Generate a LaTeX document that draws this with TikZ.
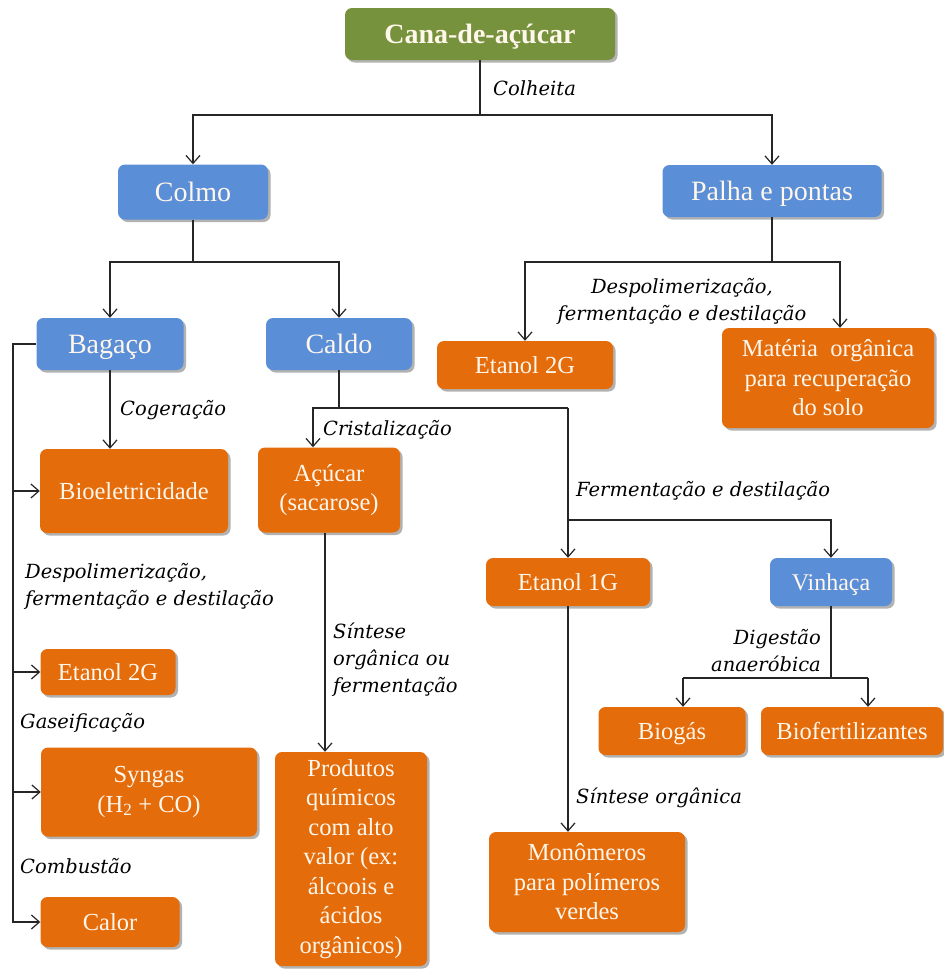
\documentclass[tikz,border=0pt]{standalone}
\usepackage{fontspec}
\setmainfont{Liberation Serif}
\newfontfamily\lblfont{DejaVu Serif}
\usetikzlibrary{arrows.meta,shadows}

\definecolor{canegreen}{HTML}{76923C}
\definecolor{partblue}{HTML}{5A8ED7}
\definecolor{prodorange}{HTML}{E46C0A}
\definecolor{boxtext}{HTML}{FFF6EC}

\tikzset{
  box/.style={rounded corners=7pt, inner sep=0pt, align=center, text=boxtext,
    drop shadow={shadow xshift=2.5pt, shadow yshift=-2.5pt, opacity=0.3, fill=black}},
  stembox/.style={box, fill=canegreen, font=\bfseries\fontsize{28}{32}\selectfont,
    text height=21pt, text depth=2.5pt},
  partbox/.style={box, fill=partblue, font=\fontsize{28}{32}\selectfont,
    text height=21pt, text depth=2.5pt},
  subpart/.style={box, fill=partblue, font=\fontsize{24}{29}\selectfont,
    text height=18pt, text depth=2pt},
  prodbox/.style={box, fill=prodorange, font=\fontsize{24.5}{29.5}\selectfont},
  oneline/.style={text height=18pt, text depth=2pt},
  lbl/.style={inner sep=0pt, font=\lblfont\itshape\fontsize{19.5}{27}\selectfont},
  conn/.style={line width=1.2pt, draw=black!85},
  arr/.style={conn, -{Straight Barb[length=8pt,width=14pt]}}
}

\begin{document}
\begin{tikzpicture}[x=1pt,y=-1pt]
\useasboundingbox (0,0) rectangle (944,969);

% ---- boxes ----
\node[stembox, minimum width=270, minimum height=52] (cana) at (480,34) {Cana-de-açúcar};
\node[partbox, minimum width=150, minimum height=55] (colmo) at (193,192) {Colmo};
\node[partbox, minimum width=219, minimum height=52] (palha) at (772,191) {Palha e pontas};
\node[partbox, minimum width=147, minimum height=52] (bagaco) at (110,344) {Bagaço};
\node[partbox, minimum width=146, minimum height=52] (caldo) at (339,344) {Caldo};
\node[prodbox, oneline, minimum width=176, minimum height=48] (etanolpalha) at (525,365) {Etanol 2G};
\node[prodbox, minimum width=212, minimum height=100] (materia) at (828,378)
  {Matéria\ \ orgânica\\para recuperação\\do solo};
\node[prodbox, oneline, minimum width=188, minimum height=84] (bioel) at (134,491) {Bioeletricidade};
\node[prodbox, minimum width=142, minimum height=85] (acucar) at (329,490) {Açúcar\\(sacarose)};
\node[prodbox, oneline, minimum width=135, minimum height=46] (etanolbag) at (108,672) {Etanol 2G};
\node[prodbox, minimum width=216, minimum height=89] (syngas) at (149,792) {Syngas\\(H\textsubscript{2} + CO)};
\node[prodbox, oneline, minimum width=139, minimum height=50] (calor) at (110,922) {Calor};
\node[prodbox, minimum width=152, minimum height=214] (produtos) at (351,859)
  {Produtos\\químicos\\com alto\\valor (ex:\\álcoois e\\ácidos\\orgânicos)};
\node[prodbox, oneline, minimum width=164, minimum height=48] (etanol1) at (568,582) {Etanol 1G};
\node[prodbox, minimum width=196, minimum height=100] (mono) at (587,882)
  {Monômeros\\para polímeros\\verdes};
\node[subpart, minimum width=122, minimum height=48] (vinhaca) at (831,582) {Vinhaça};
\node[prodbox, oneline, minimum width=147, minimum height=48] (biogas) at (672,731) {Biogás};
\node[prodbox, oneline, minimum width=182, minimum height=48] (biofert) at (852,731) {Biofertilizantes};

% ---- junction points ----
\coordinate (jcana) at (480,115);
\coordinate (jcolmo) at (193,262);
\coordinate (jpalha) at (772,262);
\coordinate (jmat) at (840,262);
\coordinate (trunk) at (13,344);
\coordinate (jcaldo) at (339,408);
\coordinate (jcrist) at (313,408);
\coordinate (jferm) at (568,408);
\coordinate (jvin) at (568,520);
\coordinate (xacucar) at (325,0);
\coordinate (jdig) at (831,678);
\coordinate (jbiogas) at (683,678);
\coordinate (jbiofert) at (868,678);

% ---- connectors ----
\draw[arr] (cana.south) -- (jcana) -| (colmo.north);
\draw[arr] (jcana) -| (palha.north);

\draw[arr] (colmo.south) -- (jcolmo) -| (bagaco.north);
\draw[arr] (jcolmo) -| (caldo.north);

\draw[arr] (palha.south) -- (jpalha) -| (etanolpalha.north);
\draw[arr] (jpalha) -- (jmat) -- (jmat |- materia.north);

\draw[arr] (bagaco.south) -- (bagaco.south |- bioel.north);
\draw[arr] (bagaco.west) -- (trunk) |- (calor.west);
\draw[arr] (trunk |- bioel.west) -- (bioel.west);
\draw[arr] (trunk |- etanolbag.west) -- (etanolbag.west);
\draw[arr] (trunk |- syngas.west) -- (syngas.west);

\draw[conn] (caldo.south) -- (jcaldo);
\draw[arr] (jferm) -- (jcrist) -- (jcrist |- acucar.north);
\draw[arr] (jferm) -- (etanol1.north);
\draw[arr] (jvin) -| (vinhaca.north);

\draw[arr] (acucar.south -| xacucar) -- (xacucar |- produtos.north);
\draw[arr] (etanol1.south) -- (etanol1.south |- mono.north);

\draw[conn] (vinhaca.south) -- (jdig);
\draw[conn] (jbiogas) -- (jbiofert);
\draw[arr] (jbiogas) -- (jbiogas |- biogas.north);
\draw[arr] (jbiofert) -- (jbiofert |- biofert.north);

% ---- process labels (multi-line ones sit on their last line) ----
\node[lbl, anchor=base west] (lcolheita) at (493,95) {Colheita};
\node[lbl, anchor=base, align=center] (ldespolb) at (682,320)
  {Despolimerização,\\fermentação e destilação};
\node[lbl, anchor=base west] (lcoger) at (120,415) {Cogeração};
\node[lbl, anchor=base west] (lcrist) at (323,435) {Cristalização};
\node[lbl, anchor=base west] (lferm) at (576,496) {Fermentação e destilação};
\node[lbl, anchor=base west, align=left] (ldespola) at (25,605)
  {Despolimerização,\\fermentação e destilação};
\node[lbl, anchor=base west] (lgas) at (20,728) {Gaseificação};
\node[lbl, anchor=base west] (lcomb) at (20,873) {Combustão};
\node[lbl, anchor=base west, align=left] (lsint) at (333,692)
  {Síntese\\orgânica ou\\fermentação};
\node[lbl, anchor=base west] (lsintb) at (576,803) {Síntese orgânica};
\node[lbl, anchor=base east, align=right] (ldig) at (821,671)
  {Digestão\\anaeróbica};
\end{tikzpicture}
\end{document}
